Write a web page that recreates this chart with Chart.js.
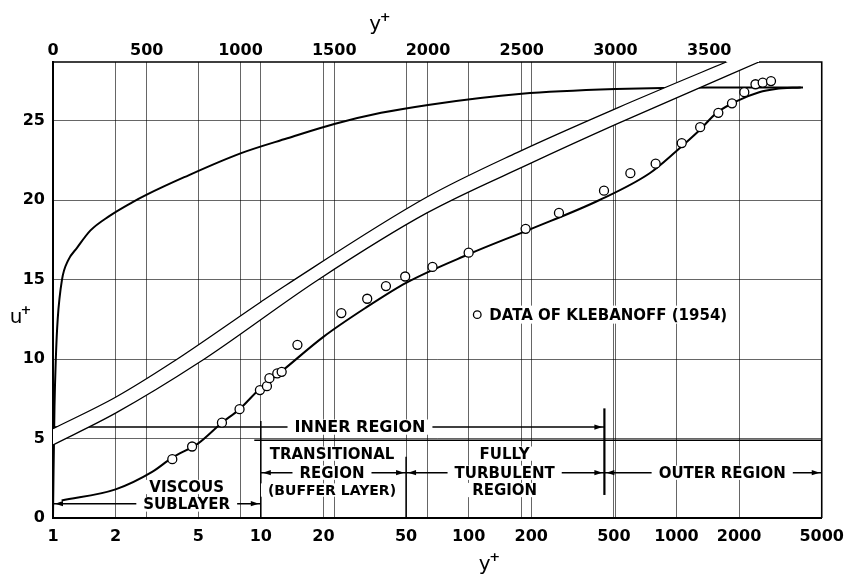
<!DOCTYPE html>
<html>
<head>
<meta charset="utf-8">
<script src="https://cdn.jsdelivr.net/npm/chart.js@4.4.0/dist/chart.umd.min.js"></script>
<style>
  html, body { margin: 0; padding: 0; background: #fff; }
  #wrap { width: 853px; height: 575px; }
</style>
</head>
<body>
<div id="wrap"><canvas id="c" width="853" height="575"></canvas></div>
<script>
// ---- tick labels ----
var logTicks = [1, 2, 5, 10, 20, 50, 100, 200, 500, 1000, 2000, 5000];
var linTicks = [0, 500, 1000, 1500, 2000, 2500, 3000, 3500];
var uTicks = [0, 5, 10, 15, 20, 25];

// ---- velocity profile plotted against linear y+ (top axis) ----
var linYplus = [0, 3, 8, 15, 25, 48, 80, 128, 200, 300, 420, 500, 700, 1000, 1250, 1500, 1750, 2000, 2500, 3000, 3500, 4000];
var linUplus = [0, 3, 7, 10, 12.5, 15, 16.2, 17, 18.1, 19.0, 19.85, 20.35, 21.45, 22.95, 23.9, 24.8, 25.5, 26.0, 26.7, 27.0, 27.1, 27.1];

// ---- same profile against log y+ (bottom axis) ----
var logYplus = [1.1, 2, 3, 3.75, 5, 6.5, 7.9, 10, 12.5, 20, 31.7, 50, 100, 200, 424, 743, 1000, 1290, 1560, 2000, 2500, 3000, 3960];
var logUplus = [1.1, 1.8, 2.9, 3.8, 4.7, 6.0, 6.85, 8.2, 9.2, 11.4, 13.2, 14.8, 16.6, 18.2, 20.0, 21.7, 23.1, 24.4, 25.5, 26.3, 26.8, 27.0, 27.1];

// ---- Klebanoff (1954) data ----
var klebYplus = [3.75, 4.67, 6.5, 7.9, 9.9, 10.7, 11.0, 12.0, 12.6, 15.0, 24.4, 32.5, 40, 49.5, 67, 100, 188, 272, 448, 600, 794, 1060, 1300, 1590, 1850, 2120, 2400, 2600, 2850];
var klebUplus = [3.7, 4.5, 6.0, 6.85, 8.05, 8.3, 8.8, 9.1, 9.2, 10.9, 12.9, 13.8, 14.6, 15.2, 15.8, 16.7, 18.2, 19.2, 20.6, 21.7, 22.3, 23.6, 24.6, 25.5, 26.1, 26.8, 27.3, 27.4, 27.5];

// ---- the white band (two lines) ----
var bandUpperY = [1, 2, 3.75, 10, 13.2, 63, 171, 517, 1735, 5000];
var bandUpperU = [5.62, 7.6, 9.8, 13.6, 14.65, 20.2, 23.0, 25.8, 28.7, 31.2];
var bandLowerY = [1, 2, 5.06, 18.9, 63, 197, 517, 2496, 5000];
var bandLowerU = [4.6, 6.6, 9.8, 15.0, 19.2, 22.3, 24.8, 28.7, 30.4];
var bandTopHits = [1735, 2496];   // where the band lines reach the frame

// ---- region annotations ----
var regionArrows = [
  { from: 1, to: 450, u: 5.72, left: false, right: true },
  { from: 1, to: 10, u: 0.9, left: true, right: true },
  { from: 10, to: 50, u: 2.85, left: true, right: true },
  { from: 50, to: 450, u: 2.85, left: true, right: true },
  { from: 450, to: 5000, u: 2.85, left: true, right: true },
  { from: 9.3, to: 5000, u: 4.9, left: false, right: false }
];
var regionBars = [
  { at: 10, u0: 0, u1: 6.1, w: 1.5 },
  { at: 50, u0: 0, u1: 3.85, w: 1.5 },
  { at: 450, u0: 1.45, u1: 6.9, w: 2.2 }
];
var regionLabels = [
  { text: 'INNER REGION', at: 30, u: 5.72, size: 16 },
  { text: 'TRANSITIONAL', at: 22, u: 4.05, size: 15 },
  { text: 'REGION', at: 22, u: 2.85, size: 15 },
  { text: '(BUFFER LAYER)', at: 22, u: 1.76, size: 14 },
  { text: 'FULLY', at: 149, u: 4.05, size: 15 },
  { text: 'TURBULENT', at: 149, u: 2.85, size: 15 },
  { text: 'REGION', at: 149, u: 1.76, size: 15 },
  { text: 'OUTER REGION', at: 1660, u: 2.85, size: 15 },
  { text: 'VISCOUS', at: 4.4, u: 1.95, size: 15 },
  { text: 'SUBLAYER', at: 4.4, u: 0.85, size: 15 }
];
var legendAt = { at: 110, u: 12.8, text: 'DATA OF KLEBANOFF (1954)' };

var FONT = '"DejaVu Sans", sans-serif';

function pts(xs, ys) {
  return xs.map(function (v, i) { return { x: v, y: ys[i] }; });
}

function head(ctx, x, y, dir) {
  ctx.beginPath();
  ctx.moveTo(x, y);
  ctx.lineTo(x - dir * 8, y - 2.6);
  ctx.lineTo(x - dir * 8, y + 2.6);
  ctx.closePath();
  ctx.fill();
}

function boxedText(ctx, text, cx, cy, size, pad) {
  ctx.font = 'bold ' + size + 'px ' + FONT;
  var w = ctx.measureText(text).width;
  var h = size * 0.95;
  ctx.fillStyle = '#fff';
  ctx.fillRect(cx - w / 2 - pad, cy - h / 2, w + 2 * pad, h);
  ctx.fillStyle = '#000';
  ctx.textAlign = 'center';
  ctx.textBaseline = 'middle';
  ctx.fillText(text, cx, cy + 1);
}

// walk the spline points of a line element (forward or backward)
function trace(ctx, points, reverse, first) {
  var n = points.length;
  for (var k = 0; k < n; k++) {
    var i = reverse ? n - 1 - k : k;
    var p = points[i];
    if (k === 0) {
      if (first) ctx.moveTo(p.x, p.y); else ctx.lineTo(p.x, p.y);
      continue;
    }
    var q = points[reverse ? i + 1 : i - 1];
    if (reverse) ctx.bezierCurveTo(q.cp1x, q.cp1y, p.cp2x, p.cp2y, p.x, p.y);
    else ctx.bezierCurveTo(q.cp2x, q.cp2y, p.cp1x, p.cp1y, p.x, p.y);
  }
}

// white strip between the two band lines, hides grid and curves behind it
var bandFill = {
  id: 'bandFill',
  beforeDatasetDraw: function (chart, args) {
    if (args.index !== 1) return;
    var a = chart.chartArea, ctx = chart.ctx;
    var up = chart.getDatasetMeta(0), lo = chart.getDatasetMeta(1);
    up.dataset.updateControlPoints(a, 'x');
    lo.dataset.updateControlPoints(a, 'x');
    ctx.save();
    ctx.beginPath();
    ctx.rect(a.left, a.top, a.right - a.left, a.bottom - a.top);
    ctx.clip();
    ctx.beginPath();
    trace(ctx, up.data, false, true);
    trace(ctx, lo.data, true, false);
    ctx.closePath();
    ctx.fillStyle = '#fff';
    ctx.fill();
    ctx.restore();
  }
};

var annotations = {
  id: 'annotations',
  beforeDatasetsDraw: function (chart) {
    var ctx = chart.ctx, x = chart.scales.x, y = chart.scales.y;
    ctx.save();
    ctx.strokeStyle = '#000';
    ctx.fillStyle = '#000';
    regionArrows.forEach(function (a) {
      var x0 = x.getPixelForValue(a.from), x1 = x.getPixelForValue(a.to), yy = y.getPixelForValue(a.u);
      ctx.lineWidth = 1.5;
      ctx.beginPath(); ctx.moveTo(x0, yy); ctx.lineTo(x1, yy); ctx.stroke();
      if (a.left) head(ctx, x0 + 2, yy, -1);
      if (a.right) head(ctx, x1 - 2, yy, 1);
    });
    regionBars.forEach(function (b) {
      var xx = x.getPixelForValue(b.at);
      ctx.lineWidth = b.w;
      ctx.beginPath();
      ctx.moveTo(xx, y.getPixelForValue(b.u0));
      ctx.lineTo(xx, y.getPixelForValue(b.u1));
      ctx.stroke();
    });
    ctx.restore();
  },
  afterDatasetsDraw: function (chart) {
    var ctx = chart.ctx, x = chart.scales.x, y = chart.scales.y, a = chart.chartArea;
    ctx.save();
    regionLabels.forEach(function (l) {
      boxedText(ctx, l.text, x.getPixelForValue(l.at), y.getPixelForValue(l.u), l.size, 7);
    });
    // legend
    var lx = x.getPixelForValue(legendAt.at), ly = y.getPixelForValue(legendAt.u);
    ctx.font = 'bold 15px ' + FONT;
    var tw = ctx.measureText(legendAt.text).width;
    ctx.fillStyle = '#fff';
    ctx.fillRect(lx - 8, ly - 9, tw + 26, 18);
    ctx.strokeStyle = '#000';
    ctx.lineWidth = 1.3;
    ctx.beginPath(); ctx.arc(lx, ly, 3.8, 0, Math.PI * 2); ctx.stroke();
    ctx.fillStyle = '#000';
    ctx.textAlign = 'left';
    ctx.textBaseline = 'middle';
    ctx.fillText(legendAt.text, lx + 12, ly + 1);
    // frame: top edge broken by the band, right edge
    ctx.lineWidth = 1.6;
    ctx.beginPath();
    ctx.moveTo(a.left, a.top); ctx.lineTo(x.getPixelForValue(bandTopHits[0]), a.top);
    ctx.moveTo(x.getPixelForValue(bandTopHits[1]), a.top); ctx.lineTo(a.right, a.top);
    ctx.lineTo(a.right, a.bottom);
    ctx.stroke();
    // axis titles
    function plusTitle(ch, cx, cy) {
      ctx.font = '20px ' + FONT;
      ctx.textAlign = 'center';
      ctx.textBaseline = 'middle';
      ctx.fillText(ch, cx - 4, cy);
      ctx.font = 'bold 13px ' + FONT;
      ctx.fillText('+', cx + 6, cy - 7);
    }
    plusTitle('y', chart.scales.x2.getPixelForValue(1740), a.top - 37);
    plusTitle('y', x.getPixelForValue(125), a.bottom + 47);
    plusTitle('u', 20, y.getPixelForValue(12.6));
    ctx.restore();
  }
};

var tickFont = { family: FONT, size: 16, weight: 'bold' };
var gridCol = 'rgba(0,0,0,0.6)';

new Chart(document.getElementById('c'), {
  type: 'line',
  data: {
    datasets: [
      { // band upper edge
        data: pts(bandUpperY, bandUpperU), xAxisID: 'x', yAxisID: 'y',
        borderColor: '#000', borderWidth: 1.3, pointRadius: 0, fill: false,
        cubicInterpolationMode: 'monotone', order: 3
      },
      { // band lower edge (white strip painted by bandFill)
        data: pts(bandLowerY, bandLowerU), xAxisID: 'x', yAxisID: 'y',
        borderColor: '#000', borderWidth: 1.3, pointRadius: 0, fill: false,
        cubicInterpolationMode: 'monotone', order: 4
      },
      { // profile vs linear y+
        data: pts(linYplus, linUplus), xAxisID: 'x2', yAxisID: 'y',
        borderColor: '#000', borderWidth: 2, pointRadius: 0, fill: false,
        cubicInterpolationMode: 'monotone', order: 5
      },
      { // profile vs log y+
        data: pts(logYplus, logUplus), xAxisID: 'x', yAxisID: 'y',
        borderColor: '#000', borderWidth: 2, pointRadius: 0, fill: false,
        cubicInterpolationMode: 'monotone', order: 2
      },
      { // Klebanoff data
        data: pts(klebYplus, klebUplus), xAxisID: 'x', yAxisID: 'y',
        showLine: false, pointRadius: 4.5, pointStyle: 'circle',
        pointBackgroundColor: '#fff', pointBorderColor: '#000', pointBorderWidth: 1.3,
        order: 1
      }
    ]
  },
  options: {
    responsive: false,
    animation: false,
    layout: { padding: { left: 0, right: 27, top: 0, bottom: 0 } },
    plugins: { legend: { display: false }, tooltip: { enabled: false } },
    scales: {
      x: {
        type: 'logarithmic', position: 'bottom', min: 1, max: 5000,
        afterBuildTicks: function (s) { s.ticks = logTicks.map(function (v) { return { value: v }; }); },
        afterFit: function (s) { s.height = 57; },
        ticks: { font: tickFont, color: '#000', padding: 9, autoSkip: false, maxRotation: 0,
                 callback: function (v) { return String(v); } },
        grid: { color: gridCol, lineWidth: 1, drawTicks: false },
        border: { color: '#000', width: 2 }
      },
      x2: {
        type: 'linear', position: 'top', min: 0, max: 4100,
        afterBuildTicks: function (s) { s.ticks = linTicks.map(function (v) { return { value: v }; }); },
        afterFit: function (s) { s.height = 62; },
        ticks: { font: tickFont, color: '#000', padding: 2, autoSkip: false, maxRotation: 0,
                 callback: function (v) { return String(v); } },
        grid: {
          color: function (c) { return (c.tick && c.tick.value > 0 && c.tick.value < 3500) ? gridCol : 'rgba(0,0,0,0)'; },
          lineWidth: 1, drawTicks: false
        },
        border: { display: false }
      },
      y: {
        min: 0, max: 28.7,
        afterBuildTicks: function (s) { s.ticks = uTicks.map(function (v) { return { value: v }; }); },
        afterFit: function (s) { s.width = 53; },
        ticks: { font: tickFont, color: '#000', padding: 8 },
        grid: { color: gridCol, lineWidth: 1, drawTicks: false },
        border: { color: '#000', width: 2 }
      }
    }
  },
  plugins: [bandFill, annotations]
});
</script>
</body>
</html>
